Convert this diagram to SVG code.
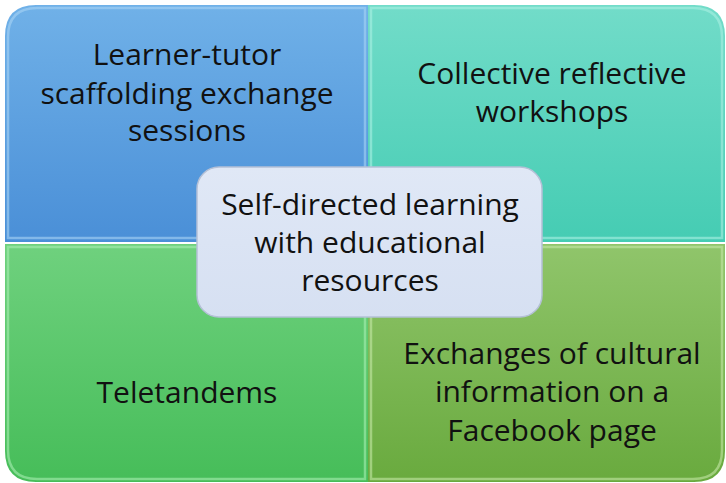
<svg xmlns="http://www.w3.org/2000/svg" width="726" height="483" viewBox="0 0 726 483">
<defs>
<linearGradient id="gBlue" x1="0" y1="0" x2="0" y2="1"><stop offset="0" stop-color="#70b1e8"/><stop offset="1" stop-color="#4a8fd7"/></linearGradient>
<linearGradient id="gTeal" x1="0" y1="0" x2="0" y2="1"><stop offset="0" stop-color="#72dcc9"/><stop offset="1" stop-color="#45ccb3"/></linearGradient>
<linearGradient id="gGreen" x1="0" y1="0" x2="0" y2="1"><stop offset="0" stop-color="#6fd17e"/><stop offset="1" stop-color="#46bd59"/></linearGradient>
<linearGradient id="gOlive" x1="0" y1="0" x2="0" y2="1"><stop offset="0" stop-color="#90c56b"/><stop offset="1" stop-color="#69aa3e"/></linearGradient>
<linearGradient id="gCenter" x1="0" y1="0" x2="0" y2="1"><stop offset="0" stop-color="#e0e8f6"/><stop offset="1" stop-color="#d6e0f2"/></linearGradient>
</defs>
<style>
.lbl{font-family:"Open Sans","Noto Sans","Liberation Sans",sans-serif;font-size:30px;fill:#111;text-anchor:middle}
.hl{fill:none;stroke-width:2.5;stroke-opacity:0.6}
</style>
<g id="blue">
<path d="M5,242 V36 Q5,5 36,5 H368 V242 Z" fill="url(#gBlue)"/>
<path d="M8,238 V37 Q8,8 37,8 H365 V238 Z" class="hl" stroke="#a9d3f5"/>
<text class="lbl" x="187" y="65">Learner-tutor</text>
<text class="lbl" x="187" y="104">scaffolding exchange</text>
<text class="lbl" x="187" y="141">sessions</text>
</g>
<g id="teal">
<path d="M368,242 V5 H694 Q725,5 725,36 V242 Z" fill="url(#gTeal)"/>
<path d="M371,238 V8 H693 Q722,8 722,37 V238 Z" class="hl" stroke="#aaf0e2"/>
<text class="lbl" x="552" y="84">Collective reflective</text>
<text class="lbl" x="552" y="122">workshops</text>
</g>
<g id="green">
<path d="M5,244 H368 V482 H36 Q5,482 5,451 Z" fill="url(#gGreen)"/>
<path d="M8,247 H365 V479 H37 Q8,479 8,450 Z" class="hl" stroke="#a8eeb3"/>
<text class="lbl" x="187" y="403">Teletandems</text>
</g>
<g id="olive">
<path d="M368,244 H725 V451 Q725,482 694,482 H368 Z" fill="url(#gOlive)"/>
<path d="M371,247 H722 V450 Q722,479 693,479 H371 Z" class="hl" stroke="#c4e8a6"/>
<text class="lbl" x="552" y="364">Exchanges of cultural</text>
<text class="lbl" x="552" y="402">information on a</text>
<text class="lbl" x="552" y="441">Facebook page</text>
</g>
<g id="center">
<rect x="197" y="167" width="345" height="150" rx="22" fill="url(#gCenter)" stroke="#b4c0d6" stroke-width="1.5"/>
<text class="lbl" x="370" y="215">Self-directed learning</text>
<text class="lbl" x="370" y="253">with educational</text>
<text class="lbl" x="370" y="291">resources</text>
</g>
<g id="connectors"/>
</svg>
